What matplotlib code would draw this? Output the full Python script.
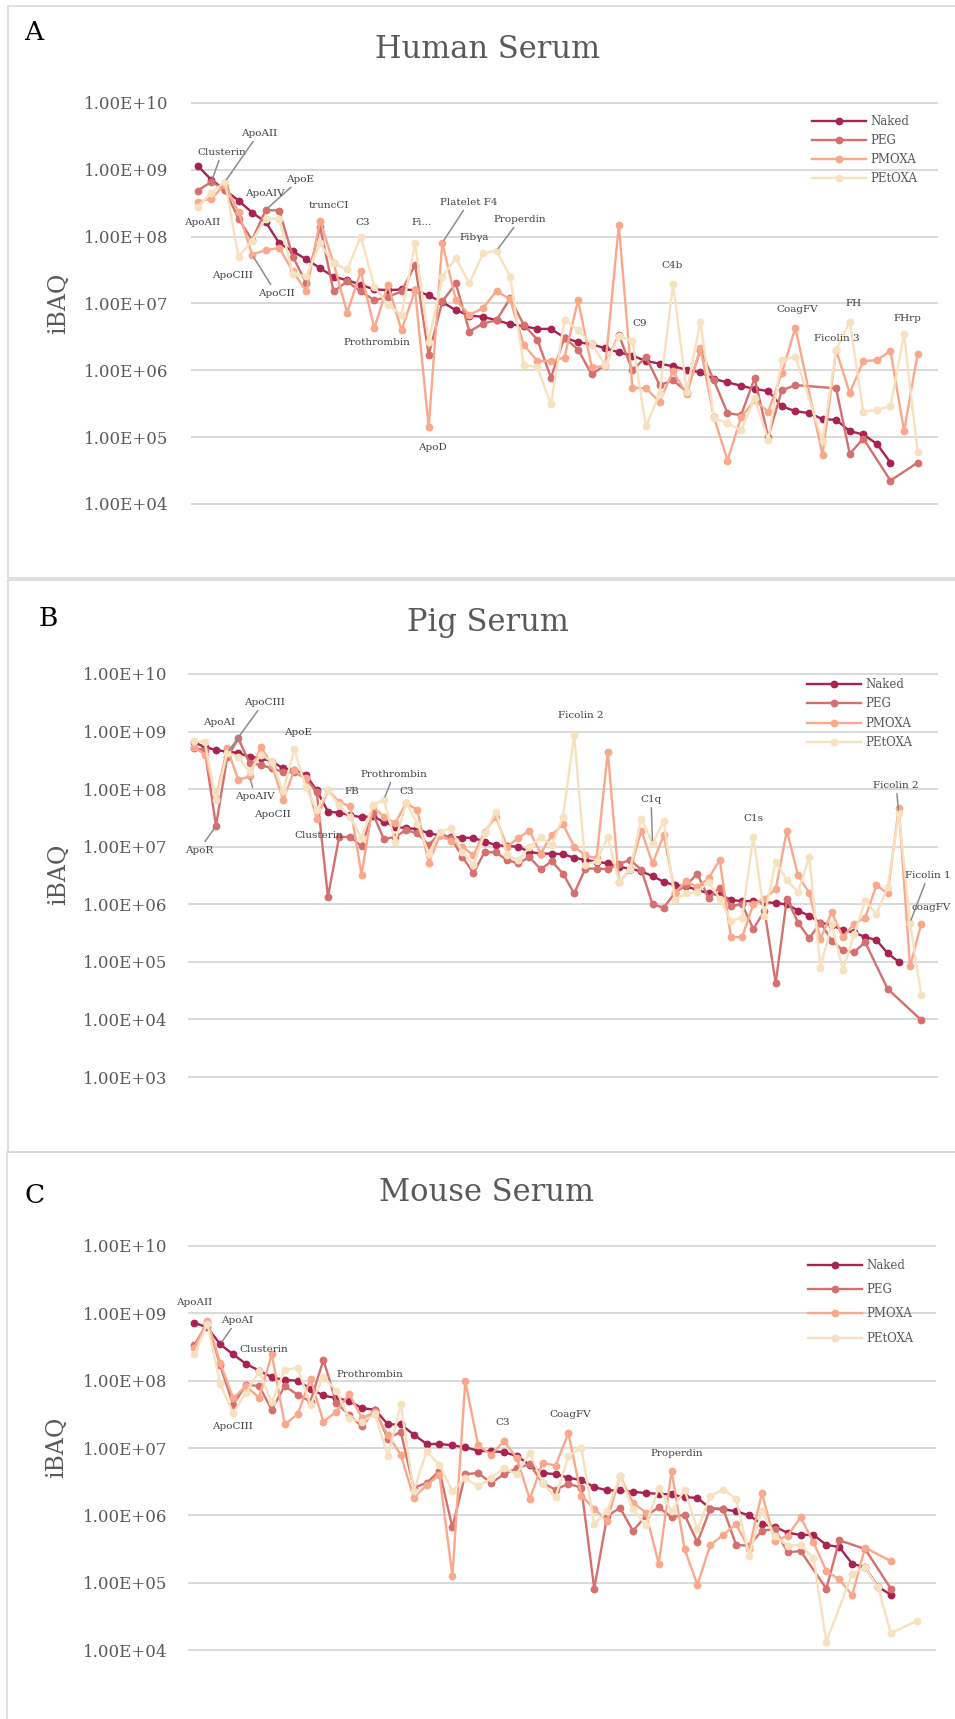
import numpy as np
import matplotlib
matplotlib.use("Agg")
import matplotlib.pyplot as plt
from matplotlib.ticker import FixedLocator, FuncFormatter, NullLocator
from matplotlib.patches import Rectangle

W, H = 955, 1719
plt.rcParams['font.family'] = ['DejaVu Serif', 'DejaVu Sans']

series_names = ['Naked', 'PEG', 'PMOXA', 'PEtOXA']
series_colors = ['#A8234F', '#D4706E', '#FAA88C', '#F7E1BE']

# ---- values as log10(iBAQ), one entry per protein category (None = no value)
human_naked = [9.06, 8.85, 8.70, 8.54, 8.36, 8.22, 7.90, 7.78, 7.66, 7.53, 7.40, 7.35, 7.28, 7.21, 7.20,
               7.21, 7.20, 7.12, 7.02, 6.90, 6.82, 6.80, 6.75, 6.69, 6.66, 6.62, 6.62, 6.49, 6.42, 6.39,
               6.33, 6.27, 6.22, 6.14, 6.10, 6.06, 6.01, 5.97, 5.87, 5.82, 5.77, 5.72, 5.69, 5.46, 5.39,
               5.36, 5.27, 5.26, 5.09, 5.04, 4.90, 4.62]
human_peg = [8.69, 8.82, 8.70, 8.27, 7.95, 8.40, 8.39, 7.70, 7.30, 8.15, 7.18, 7.33, 7.18, 7.05, 7.10,
             7.18, 7.58, 6.23, 7.03, 7.30, 6.58, 6.70, 6.75, 7.08, 6.68, 6.46, 5.89, 6.49, 6.31, 5.94,
             6.08, 6.53, 6.00, 6.20, 5.78, 5.85, 5.68, 6.30, 5.85, 5.36, 5.33, 5.88, 5.00, 5.70, 5.78,
             None, None, 5.73, 4.75, 4.98, None, 4.35, None, 4.62]
human_pmoxa = [8.52, 8.57, 8.78, 8.37, 7.73, 7.80, 7.83, 7.48, 7.18, 8.24, 7.60, 6.86, 7.48, 6.63, 7.28,
               6.60, 7.20, 5.15, 7.91, 7.05, 6.83, 6.93, 7.19, 7.06, 6.38, 6.14, 6.14, 6.19, 7.05, 6.05,
               6.06, 8.17, 5.74, 5.73, 5.53, 5.99, 5.64, 6.33, 5.30, 4.65, 5.30, 5.55, 5.38, 5.96, 6.64,
               None, 4.73, 6.30, 5.66, 6.14, 6.15, 6.29, 5.09, 6.25]
human_petoxa = [8.45, 8.66, 8.82, 7.70, 7.94, 8.27, 8.27, 7.44, 7.41, 7.90, 7.60, 7.51, 8.00, 7.25, 6.98,
                6.83, 7.90, 6.43, 7.40, 7.68, 7.30, 7.75, 7.79, 7.40, 6.08, 6.05, 5.49, 6.76, 6.60, 6.40,
                6.08, 6.51, 6.44, 5.16, 5.65, 7.29, 5.68, 6.73, 5.28, 5.21, 5.10, 5.58, 4.96, 6.16, 6.20,
                None, 4.95, 6.30, 6.73, 5.38, 5.41, 5.46, 6.54, 4.78]

pig_naked = [8.82, 8.73, 8.68, 8.65, 8.63, 8.56, 8.54, 8.48, 8.36, 8.33, 8.25, 7.98, 7.61, 7.59, 7.55,
             7.51, 7.53, 7.43, 7.35, 7.32, 7.31, 7.23, 7.20, 7.17, 7.16, 7.15, 7.09, 7.03, 7.01, 7.00,
             6.91, 6.88, 6.88, 6.87, 6.81, 6.77, 6.74, 6.71, 6.65, 6.62, 6.57, 6.49, 6.39, 6.33, 6.31,
             6.25, 6.19, 6.16, 6.08, 6.05, 6.06, 6.04, 6.02, 6.00, 5.89, 5.80, 5.68, 5.64, 5.55, 5.51,
             5.43, 5.38, 5.15, 5.00]
pig_peg = [8.71, 8.68, 7.36, 8.55, 8.88, 8.45, 8.42, 8.36, 8.30, 8.30, 8.19, 7.95, 6.13, 7.17, 7.17,
           7.01, 7.58, 7.13, 7.17, 7.29, 7.23, 7.03, 7.23, 7.15, 6.83, 6.54, 6.91, 6.90, 6.77, 6.71,
           6.82, 6.61, 6.75, 6.53, 6.19, 6.62, 6.62, 6.61, 6.70, 6.77, 6.60, 6.00, 5.94, 6.20, 6.33,
           6.53, 6.11, 6.29, 5.97, 6.00, 5.57, 5.89, 4.63, 6.10, 5.68, 5.41, 5.68, 5.37, 5.20, 5.17,
           5.34, None, 4.53, None, None, 3.99]
pig_pmoxa = [8.74, 8.60, 7.85, 8.71, 8.16, 8.22, 8.74, 8.42, 7.81, 8.33, 8.19, 7.49, 7.98, 7.78, 7.70,
             6.51, 7.70, 7.52, 7.41, 7.76, 7.63, 6.71, 7.20, 7.10, 7.00, 6.85, 7.26, 7.52, 7.00, 7.15,
             7.28, 6.88, 7.20, 7.39, 7.00, 6.85, 6.80, 8.65, 6.39, 6.60, 7.28, 6.71, 7.20, 6.20, 6.40,
             6.30, 6.45, 6.77, 5.43, 5.43, 6.00, 6.10, 6.26, 7.28, 6.50, 6.20, 5.40, 5.86, 5.43, 5.66,
             5.77, 6.33, 6.19, 7.68, 4.92, 5.66]
pig_petoxa = [8.84, 8.82, 7.81, 8.63, 8.56, 8.30, 8.60, 8.48, 7.96, 8.69, 8.04, 7.64, 7.98, 7.72, 7.52,
              7.15, 7.72, 7.82, 7.09, 7.76, 7.40, 6.88, 7.26, 7.32, 6.91, 6.68, 7.23, 7.61, 6.85, 6.77,
              6.99, 7.17, 7.03, 7.52, 8.94, 6.68, 6.75, 7.17, 6.39, 6.62, 7.49, 7.06, 7.44, 6.07, 6.19,
              6.21, 6.39, 6.10, 5.71, 5.77, 7.17, 5.80, 6.74, 6.42, 6.21, 6.82, 4.90, 5.66, 4.86, 5.48,
              6.06, 5.83, 6.30, 7.58, 5.68, 4.42]

mouse_naked = [8.86, 8.79, 8.54, 8.39, 8.25, 8.15, 8.05, 8.01, 8.00, 7.88, 7.78, 7.74, 7.70, 7.59, 7.57,
               7.35, 7.35, 7.20, 7.06, 7.06, 7.04, 7.01, 6.96, 6.95, 6.94, 6.88, 6.75, 6.63, 6.61, 6.56,
               6.52, 6.42, 6.37, 6.37, 6.35, 6.33, 6.32, 6.31, 6.27, 6.26, 6.10, 6.09, 6.06, 6.00, 5.87,
               5.83, 5.74, 5.71, 5.71, 5.56, 5.53, 5.28, 5.23, 4.94, 4.82]
mouse_peg = [8.53, 8.86, 8.23, 7.64, 7.94, 7.92, 7.57, 7.92, 7.79, 7.69, 8.31, 7.67, 7.49, 7.32, 7.57,
             7.14, 7.24, 6.41, 6.48, 6.66, 5.82, 6.61, 6.63, 6.48, 6.61, 6.70, 6.76, 6.48, 6.38, 6.47,
             6.41, 4.91, 5.99, 6.11, 5.77, 5.99, 6.12, 5.97, 6.01, 5.60, 6.10, 6.10, 5.56, 5.55, 5.77,
             5.80, 5.45, 5.47, None, 4.91, 5.63, None, 5.50, None, 4.91]
mouse_pmoxa = [8.49, 8.89, 8.26, 7.74, 7.92, 7.75, 8.39, 7.35, 7.50, 8.03, 7.39, 7.54, 7.80, 7.44, 7.54,
               7.19, 6.90, 6.26, 6.45, 6.60, 5.10, 7.99, 7.04, 6.90, 7.10, 6.85, 6.24, 6.78, 6.74, 7.22,
               6.29, 6.10, 5.92, 6.58, 6.19, 6.04, 5.28, 6.66, 5.50, 4.97, 5.56, 5.71, 5.87, 5.50, 6.33,
               5.62, 5.70, 5.97, 5.60, 5.17, 5.05, 4.81, 5.52, None, 5.32]
mouse_petoxa = [8.39, 8.84, 7.95, 7.52, 7.82, 8.14, 7.68, 8.16, 8.19, 7.64, 8.06, 7.85, 7.44, 7.39, 7.50,
                6.88, 7.65, 6.36, 6.95, 6.75, 6.36, 6.55, 6.43, 6.55, 6.70, 6.61, 6.93, 6.48, 6.27, 6.88,
                7.00, 5.87, 6.07, 6.58, 6.09, 5.86, 6.41, 6.06, 6.38, 5.79, 6.29, 6.38, 6.25, 5.40, 6.06,
                5.69, 5.55, 5.56, 5.37, 4.12, None, 5.13, 5.23, 4.93, 4.25, None, 4.43]

# protein labels: (text, anchor px (x, y from top), target series index, category index, h-align)
human_labels = [
    ("Clusterin", (222, 152), 1, 1, 'center'), ("ApoAII", (259, 133), 3, 2, 'center'),
    ("ApoE", (300, 179), 1, 5, 'center'), ("ApoAIV", (265, 193), None, None, 'center'),
    ("ApoAII", (202, 222), None, None, 'center'), ("truncCI", (329, 205), None, None, 'center'),
    ("C3", (363, 222), None, None, 'center'), ("Fi...", (422, 222), None, None, 'center'),
    ("Platelet F4", (469, 202), 2, 18, 'center'), ("Fibγa", (474, 237), None, None, 'center'),
    ("Properdin", (520, 219), 3, 22, 'center'), ("ApoCIII", (233, 275), None, None, 'center'),
    ("ApoCII", (276, 293), 2, 4, 'center'), ("Prothrombin", (377, 342), None, None, 'center'),
    ("ApoD", (432, 447), None, None, 'center'), ("C4b", (672, 265), None, None, 'center'),
    ("C9", (640, 323), None, None, 'center'), ("CoagFV", (797, 309), None, None, 'center'),
    ("FH", (854, 303), None, None, 'center'), ("Ficolin 3", (837, 338), None, None, 'center'),
    ("FHrp", (907, 318), None, None, 'center'),
]
pig_labels = [
    ("ApoAI", (219, 722), None, None, 'center'), ("ApoCIII", (264, 702), 3, 3, 'center'),
    ("ApoE", (298, 732), None, None, 'center'), ("ApoAIV", (255, 796), 2, 5, 'center'),
    ("ApoCII", (272, 814), None, None, 'center'), ("ApoR", (199, 850), 1, 2, 'center'),
    ("Clusterin", (319, 835), None, None, 'center'), ("FB", (352, 791), None, None, 'center'),
    ("Prothrombin", (394, 774), 3, 17, 'center'), ("C3", (407, 791), None, None, 'center'),
    ("Ficolin 2", (581, 715), None, None, 'center'), ("C1q", (651, 799), 3, 41, 'center'),
    ("C1s", (753, 818), None, None, 'center'), ("Ficolin 2", (896, 785), 3, 63, 'center'),
    ("Ficolin 1", (951, 875), 3, 64, 'right'), ("coagFV", (951, 907), None, None, 'right'),
]
mouse_labels = [
    ("ApoAII", (194, 1302), None, None, 'center'), ("ApoAI", (237, 1320), 0, 2, 'center'),
    ("Clusterin", (264, 1349), None, None, 'center'), ("Prothrombin", (370, 1374), None, None, 'center'),
    ("ApoCIII", (233, 1426), None, None, 'center'), ("C3", (503, 1422), None, None, 'center'),
    ("CoagFV", (570, 1414), None, None, 'center'), ("Properdin", (677, 1453), None, None, 'center'),
]

panels = [
    dict(letter='A', letter_xy=(34, 33), title='Human Serum', title_xy=(488, 50),
         data=[human_naked, human_peg, human_pmoxa, human_petoxa], ncat=55, lo=4,
         ax_lr=(191, 938), y_hi=103, y_lo=504, ylabel_xy=(58, 303), tick_pad=16,
         frame=(8, 6, 960, 578), legend_xy=(812, 115), legend_sp=0.50, labels=human_labels),
    dict(letter='B', letter_xy=(48, 618), title='Pig Serum', title_xy=(488, 622),
         data=[pig_naked, pig_peg, pig_pmoxa, pig_petoxa], ncat=67, lo=3,
         ax_lr=(188, 938), y_hi=674, y_lo=1077, ylabel_xy=(58, 874), tick_pad=15,
         frame=(8, 580, 960, 1152), legend_xy=(807, 678), legend_sp=0.55, labels=pig_labels),
    dict(letter='C', letter_xy=(35, 1195), title='Mouse Serum', title_xy=(486, 1192),
         data=[mouse_naked, mouse_peg, mouse_pmoxa, mouse_petoxa], ncat=58, lo=4,
         ax_lr=(188, 936), y_hi=1246, y_lo=1650, ylabel_xy=(56, 1447), tick_pad=15,
         frame=(7, 1152, 960, 1740), legend_xy=(808, 1259), legend_sp=0.95, labels=mouse_labels),
]

fig = plt.figure(figsize=(W / 100, H / 100), dpi=100)
fig.patch.set_facecolor('white')
GRAY = '#595959'


def fx(x):
    return x / W


def fy(y):
    return 1 - y / H


for p in panels:
    x0, y0, x1, y1 = p['frame']
    fig.add_artist(Rectangle((fx(x0), fy(y1)), (x1 - x0) / W, (y1 - y0) / H,
                             transform=fig.transFigure, fill=False, ec='#D9D9D9', lw=1.2))
    lo = p['lo']
    dec_px = (p['y_lo'] - p['y_hi']) / (10 - lo)
    pad = 0.03
    top = p['y_hi'] - pad * dec_px
    bot = p['y_lo'] + pad * dec_px
    l, r = p['ax_lr']
    ax = fig.add_axes([fx(l), fy(bot), (r - l) / W, (bot - top) / H])
    ax.set_yscale('log')
    ax.set_ylim(10 ** (lo - pad), 10 ** (10 + pad))
    ax.set_xlim(-0.5, p['ncat'] - 0.5)
    for s in ax.spines.values():
        s.set_visible(False)
    ax.set_facecolor('none')
    ax.yaxis.set_major_locator(FixedLocator([10.0 ** k for k in range(lo, 11)]))
    ax.yaxis.set_minor_locator(NullLocator())
    ax.yaxis.set_major_formatter(FuncFormatter(lambda v, _: f"{v:.2E}"))
    ax.xaxis.set_major_locator(NullLocator())
    ax.xaxis.set_minor_locator(NullLocator())
    ax.tick_params(axis='y', length=0, pad=p['tick_pad'], labelsize=12, labelcolor=GRAY)
    ax.yaxis.grid(True, color='#D9D9D9', lw=1.4)
    ax.set_axisbelow(True)

    handles = []
    for name, col, vals in zip(series_names, series_colors, p['data']):
        xs = [i for i, v in enumerate(vals) if v is not None]
        ys = [10.0 ** v for v in vals if v is not None]
        h, = ax.plot(xs, ys, color=col, lw=1.7, marker='o', ms=4.6, mec=col, mfc=col,
                     label=name, clip_on=False, zorder=3)
        handles.append(h)

    lx, ly = p['legend_xy']
    ax.legend(handles=handles, loc='upper left', bbox_to_anchor=(fx(lx), fy(ly)),
              bbox_transform=fig.transFigure, frameon=False, borderpad=0, borderaxespad=0,
              handlelength=4.6, handletextpad=0.35, labelspacing=p['legend_sp'],
              fontsize=8.5, labelcolor=GRAY, numpoints=1)

    for text, (tx, ty), si, ci, ha in p['labels']:
        kw = dict(ha=ha, va='center', fontsize=7.5, color='#404040', zorder=5,
                  annotation_clip=False)
        if si is not None:
            yv = 10.0 ** p['data'][si][ci]
            ax.annotate(text, xy=(ci, yv), xycoords='data', xytext=(tx, H - ty),
                        textcoords='figure pixels',
                        arrowprops=dict(arrowstyle='-', color='#8C8C8C', lw=1.1,
                                        shrinkA=1, shrinkB=2), **kw)
        else:
            ax.annotate(text, xy=(tx, H - ty), xycoords='figure pixels', **kw)

    fig.text(fx(p['title_xy'][0]), fy(p['title_xy'][1]), p['title'], ha='center', va='center',
             fontsize=22, color=GRAY)
    fig.text(fx(p['letter_xy'][0]), fy(p['letter_xy'][1]), p['letter'], ha='center', va='center',
             fontsize=19, color='black')
    fig.text(fx(p['ylabel_xy'][0]), fy(p['ylabel_xy'][1]), 'iBAQ', ha='center', va='center',
             rotation=90, fontsize=17, color=GRAY)

fig.savefig('out.png', dpi=100, facecolor='white')
